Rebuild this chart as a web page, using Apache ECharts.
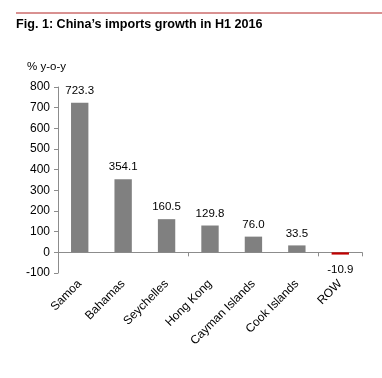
<!DOCTYPE html>
<html><head><meta charset="utf-8">
<script src="https://cdn.jsdelivr.net/npm/echarts@6/dist/echarts.min.js"></script>
<style>html,body{margin:0;padding:0;background:#fff}#c{width:382px;height:378px}</style>
</head><body><div id="c"></div>
<script>
var titleText = "Fig. 1: China\u2019s imports growth in H1 2016";
var unitLabel = "% y-o-y";
var categories = ["Samoa","Bahamas","Seychelles","Hong Kong","Cayman Islands","Cook Islands","ROW"];
var values = [723.3, 354.1, 160.5, 129.8, 76.0, 33.5, -10.9];
var yTicks = [-100, 800, 100];

var chart = echarts.init(document.getElementById('c'), null, {renderer:'canvas'});
var F = "'Liberation Sans', Arial, sans-serif";
chart.setOption({
  animation:false,
  textStyle:{fontFamily:F},
  graphic:[
    {type:'line', shape:{x1:16,y1:13,x2:382,y2:13}, style:{stroke:'#b22222', lineWidth:1}},
    {type:'text', left:16, top:18, style:{text:titleText, font:'bold 12.6px '+F, fill:'#000'}},
    {type:'text', left:27, top:61, style:{text:unitLabel, font:'11.5px '+F, fill:'#000'}}
  ],
  grid:{left:58, right:20, top:87, bottom:105, containLabel:false},
  xAxis:[
    {type:'category', data:categories, axisLine:{onZero:true, lineStyle:{color:'#8c8c8c'}},
     axisTick:{show:true, lineStyle:{color:'#8c8c8c'}, length:4}, axisLabel:{show:false}},
    {type:'category', data:categories, position:'bottom', axisLine:{show:false, onZero:false}, axisTick:{show:false},
     axisLabel:{show:true, rotate:45, interval:0, color:'#000', fontSize:12, fontFamily:F, margin:9}}
  ],
  yAxis:{type:'value', min:yTicks[0], max:yTicks[1], interval:yTicks[2],
    axisLine:{show:true, lineStyle:{color:'#8c8c8c'}}, axisTick:{show:true, length:4, lineStyle:{color:'#8c8c8c'}},
    splitLine:{show:false}, axisLabel:{color:'#000', fontSize:12, fontFamily:F, margin:8}},
  series:[{
    type:'bar', xAxisIndex:0, barWidth:'40%',
    data: values.map(function(v){
      return v<0 ? {value:v, itemStyle:{color:'#c00000'}, label:{position:'bottom', distance:9}} : {value:v};
    }),
    itemStyle:{color:'#808080'},
    label:{show:true, position:'top', distance:6, color:'#000', fontSize:11.5, fontFamily:F,
      formatter:function(p){return p.value.toFixed(1);}}
  }]
});
</script></body></html>
